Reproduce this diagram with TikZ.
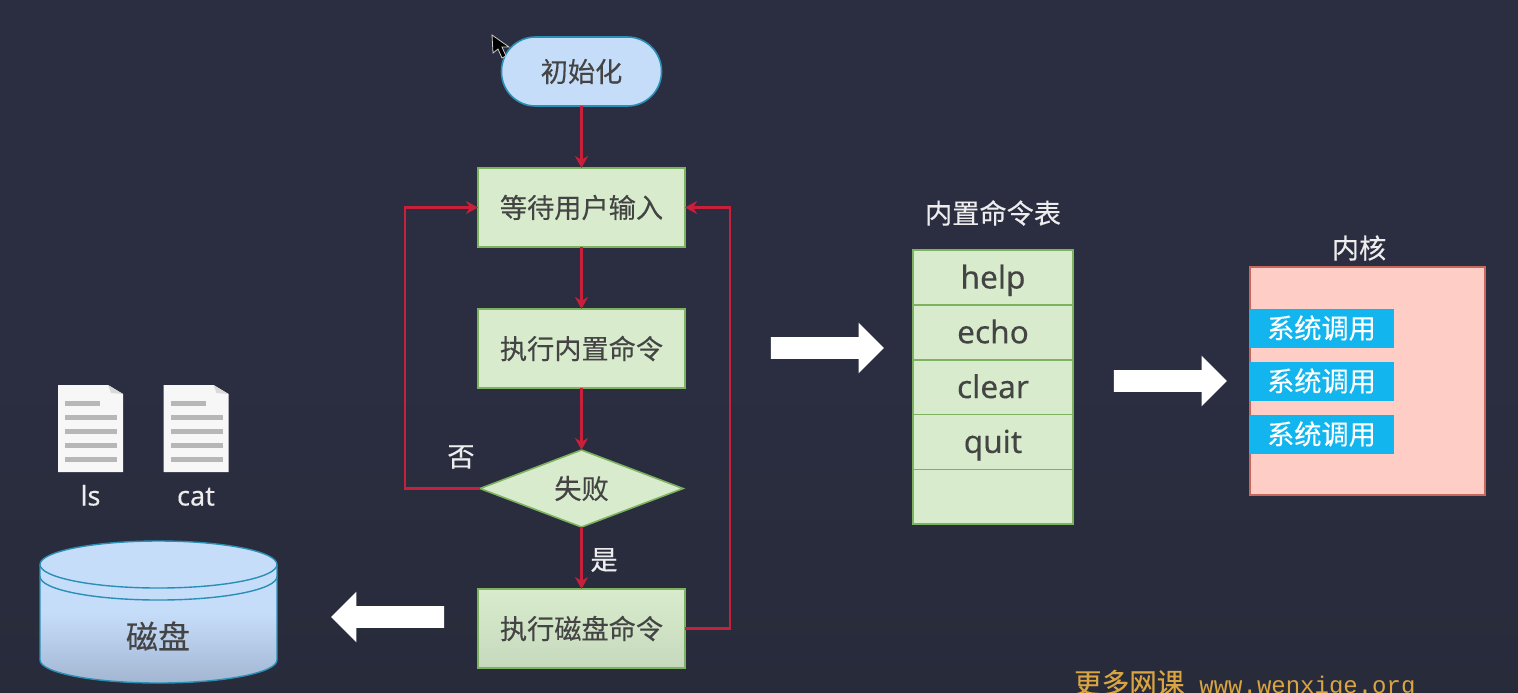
\documentclass[tikz,border=0pt]{standalone}
\usepackage{fontspec}
\setmainfont[FakeBold=0.2]{Noto Sans}
\setmonofont{Liberation Mono}
\newfontfamily\cjk[FakeBold=0.25]{Noto Sans CJK SC}
\usetikzlibrary{positioning, arrows.meta, shapes.geometric, shapes.arrows}
\definecolor{bgtop}{HTML}{2B2E41}
\definecolor{bgbot}{HTML}{282B3A}
\definecolor{inkgray}{HTML}{444444}
\definecolor{wirered}{HTML}{C8203A}
\definecolor{stepfill}{HTML}{D8ECCD}
\definecolor{stepline}{HTML}{7DB35F}
\definecolor{bluefill}{HTML}{C6DDFA}
\definecolor{bluebot}{HTML}{A3B6D2}
\definecolor{blueline}{HTML}{2A8FB5}
\definecolor{kernfill}{HTML}{FDCDC6}
\definecolor{kernline}{HTML}{C8685C}
\definecolor{callfill}{HTML}{12B5EE}
\definecolor{markgold}{HTML}{D9A441}
\definecolor{sheetline}{HTML}{B7B7B7}

\begin{document}
\begin{tikzpicture}[
  x=0.5pt, y=-0.5pt,
  >={Stealth[length=6pt, width=6.5pt]},
  every node/.style={font=\cjk\fontsize{13.6}{16}\selectfont, text=inkgray, outer sep=0pt, inner sep=0pt},
  stepbox/.style = {draw=stepline, fill=stepfill, line width=0.8pt, minimum width=103.5pt, minimum height=39.5pt},
  rowbox/.style  = {draw=stepline, fill=stepfill, line width=0.8pt, minimum width=80pt, minimum height=27.4pt, text height=13.5pt, text depth=2.5pt, font=\fontsize{15.8}{18}\selectfont},
  callbox/.style = {fill=callfill, text=white, minimum width=72.5pt, minimum height=19.5pt},
  title/.style   = {text=white!93!black},
  bigarr/.style  = {single arrow, fill=white, single arrow head extend=7.25pt, minimum height=56.5pt, minimum width=25pt, inner ysep=5.25pt, inner xsep=0pt},
  arr/.style     = {->, wirered, line width=1.05pt},
]
  \useasboundingbox[top color=bgtop, bottom color=bgbot, middle color=bgtop] (0,0) rectangle (1518,692);

  % flow column
  \node[draw=blueline, fill=bluefill, line width=0.8pt, rounded corners=17pt, minimum width=80pt, minimum height=34.5pt] (start) at (581.5,71.5){初始化};
  \node[stepbox, below=31pt of start] (wait){等待用户输入};
  \node[stepbox, below=31pt of wait]  (builtin){执行内置命令};
  \node[diamond, draw=stepline, fill=stepfill, line width=0.8pt, aspect=2.64, minimum width=101.5pt, minimum height=38.5pt, below=31pt of builtin] (fail){失败};
  \node[stepbox, top color=stepfill, bottom color=stepfill!92!black, below=31pt of fail]  (diskcmd){执行磁盘命令};
  \foreach \a/\b in {start/wait,wait/builtin,builtin/fail,fail/diskcmd}\draw[arr](\a)--(\b);
  \draw[arr] (fail.west) -- ++(-37.5pt,0) |- (wait.west);
  \draw[arr] (diskcmd.east) -- ++(22.5pt,0) |- (wait.east);
  \node[title] (no) at (461,457){否};
  \node[title] (yes) at (604,560){是};

  % table of commands
  \node[title] (tabletitle) at (993,213){内置命令表};
  \node[rowbox] (help) at (993,277.5){help};
  \node[rowbox, below=0pt of help]  (echo){echo};
  \node[rowbox, below=0pt of echo]  (clear){clear};
  \node[rowbox, below=0pt of clear] (quit){quit};
  \node[rowbox, below=0pt of quit]  (blank){};

  % kernel
  \node[draw=kernline, fill=kernfill, line width=0.6pt, minimum width=117.5pt, minimum height=114pt] (kernel) at (1367.5,381){};
  \node[title] (kerneltitle) at (1359,248){内核};
  \node[callbox] (call1) at (1321.5,328){系统调用};
  \node[callbox] (call2) at (1321.5,381){系统调用};
  \node[callbox] (call3) at (1321.5,434){系统调用};

  % big arrows
  \node[bigarr] (toTable) at (822,348){};
  \node[bigarr] (toKernel) at (1165,381){};
  \node[bigarr, shape border rotate=180] (toDisk) at (393,617){};

  % files
  \foreach \x/\n in {0/ls,105.5/cat}{
    \begin{scope}[shift={(\x,0)}]
      \fill[white!97!black] (58,385) -- (108,385) -- (123,394) -- (123,472) -- (58,472) -- cycle;
      \fill[white!85!black] (108,385) -- (111,393) -- (123,394) -- cycle;
      \fill[sheetline] (65,400.5) rectangle (100,405.5);
      \foreach \y in {414.5,428.5,442.5,456.5}\fill[sheetline] (65,\y) rectangle (117,\y+5);
      \node[title, text height=10.5pt, text depth=0pt, font=\fontsize{13.5}{16}\selectfont] (\n) at (90.5,495){\n};
    \end{scope}
  }

  % disk
  \path[top color=bluefill, bottom color=bluebot, middle color=bluefill] (40,564.5) -- (40,660) arc[start angle=180, end angle=360, x radius=118.5, y radius=-23] -- (277,564.5) arc[start angle=0, end angle=180, x radius=118.5, y radius=-23.5] -- cycle;
  \draw[blueline, line width=0.7pt] (40,564.5) -- (40,660) arc[start angle=180, end angle=360, x radius=118.5, y radius=-23] -- (277,564.5) arc[start angle=0, end angle=180, x radius=118.5, y radius=-23.5];
  \draw[blueline, line width=0.7pt] (40,564.5) arc[start angle=180, end angle=360, x radius=118.5, y radius=-23.5];
  \draw[blueline, line width=0.7pt] (40,576.5) arc[start angle=180, end angle=360, x radius=118.5, y radius=-23.5];
  \node[font=\cjk\fontsize{16}{18}\selectfont] (disk) at (158,636){磁盘};

  % pointer
  \draw[white!80!black, fill=black, line width=0.4pt] (492,35) -- (493,53) -- (498,49) -- (502,58) -- (506,56) -- (502,47) -- (509,47) -- cycle;

  % watermark
  \node[anchor=base west, text=markgold, font=\fontsize{13.8}{16}\selectfont] (mark) at (1074,693){{\cjk 更多网课}\hspace{7.5pt}{\ttfamily\fontsize{12}{14}\selectfont www.wenxige.org}};
\end{tikzpicture}
\end{document}
